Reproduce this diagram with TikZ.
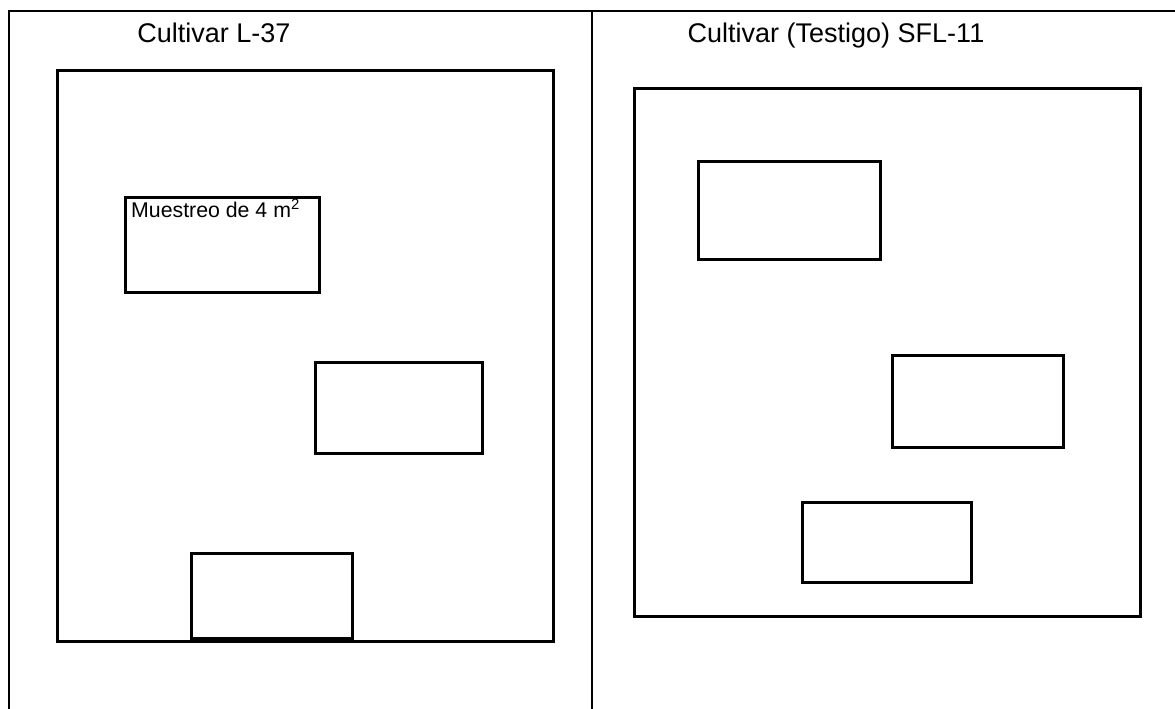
\documentclass[tikz,border=0pt]{standalone}
\usepackage{fontspec}
\setmainfont{Liberation Sans}
\begin{document}
\begin{tikzpicture}[x=1pt,y=-1pt,
  rule/.style={line width=2.6pt},
  plot/.style={draw,line width=2.6pt,inner sep=0pt,anchor=north west,rectangle},
  title/.style={font=\fontsize{27}{32}\selectfont,inner sep=0pt,anchor=base},
  tag/.style={font=\fontsize{21.3}{25}\selectfont,inner sep=0pt,anchor=base west}]
\useasboundingbox (0,0) rectangle (1175,709);
% table rules
\draw[rule] (1175,11) -- (9,11) -- (9,709);
\draw[rule] (592,11) -- (592,709);
% column titles
\node[title] (t1) at (214,43) {Cultivar L-37};
\node[title] (t2) at (836,43) {Cultivar (Testigo) SFL-11};
% field L-37 and its sampling plots
\node[plot,minimum width=496pt,minimum height=571pt] (f1) at (56,69) {};
\node[plot,minimum width=194pt,minimum height=95pt] (a1) at (124,196) {};
\node[tag] (m1) at (131,217) {Muestreo de 4 m\textsuperscript{2}};
\node[plot,minimum width=167pt,minimum height=91pt] (a2) at (314,361) {};
\node[plot,minimum width=161pt,minimum height=85pt] (a3) at (190,552) {};
% field SFL-11 and its sampling plots
\node[plot,minimum width=506pt,minimum height=528pt] (f2) at (633,87) {};
\node[plot,minimum width=182pt,minimum height=98pt] (b1) at (697,160) {};
\node[plot,minimum width=171pt,minimum height=92pt] (b2) at (891,354) {};
\node[plot,minimum width=169pt,minimum height=80pt] (b3) at (801,501) {};
\end{tikzpicture}
\end{document}
